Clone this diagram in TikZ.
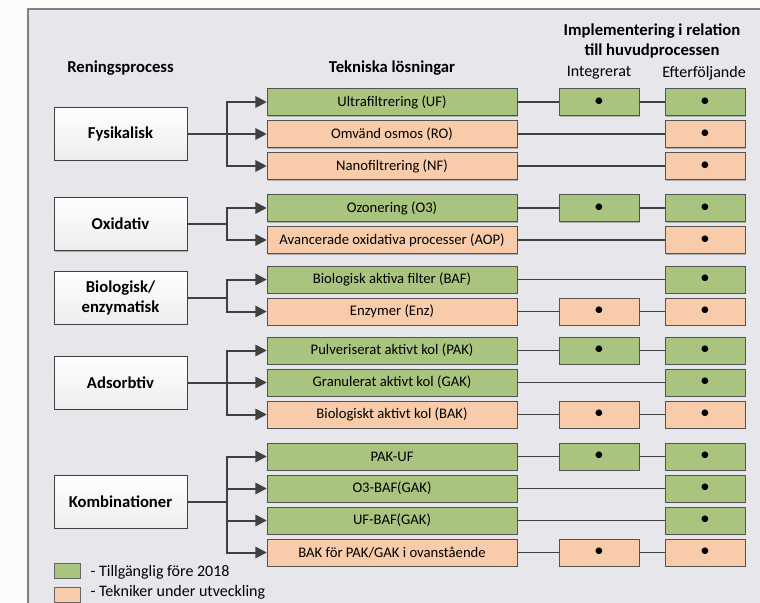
\documentclass[tikz,border=0pt]{standalone}
\usepackage{fontspec}
\setmainfont{Carlito}
\usetikzlibrary{arrows.meta, positioning, shadows}
\definecolor{cPanel}{RGB}{231,231,235}
\definecolor{cGreen}{RGB}{169,196,127}
\definecolor{cOrange}{RGB}{248,204,170}
\definecolor{cLine}{RGB}{64,64,64}
\tikzset{
	shd/.style      ={drop shadow={shadow xshift=1pt, shadow yshift=-1pt, opacity=0.25, fill=black}},
	grp/.style      ={rectangle, draw=cLine, top color=white, bottom color=black!7, minimum width=99.75pt, minimum height=39.75pt, align=center, font=\fontsize{12.5}{15}\selectfont\bfseries, shd},
	tek/.style      ={rectangle, draw=cLine!90, minimum width=187.5pt, minimum height=20.25pt, inner sep=0pt, font=\fontsize{11}{13}\selectfont, shd},
	imp/.style      ={tek, minimum width=60pt, font=\fontsize{14}{14}\selectfont},
	avail/.style    ={fill=cGreen},
	devel/.style    ={fill=cOrange},
	head/.style     ={align=center, font=\fontsize{12.5}{15}\selectfont\bfseries},
	sub/.style      ={font=\fontsize{12}{14}\selectfont},
	legbox/.style   ={rectangle, draw=cLine!80, minimum width=19.5pt, minimum height=11.25pt, inner sep=0pt},
	legtext/.style  ={inner sep=0pt, font=\fontsize{12}{14}\selectfont},
	% connectors
	sig/.style      ={-{Triangle[length=8.5pt, width=8.5pt]}, line width=1.5pt, draw=cLine},
	lnk/.style      ={line width=1pt, draw=cLine},
}

\begin{document}
\begin{tikzpicture}[x=0.75pt, y=-0.75pt]
	\useasboundingbox (0,0) rectangle (760,603);
	\clip (0,0) rectangle (760,603);
	\fill[white!97!brown] (0,0) rectangle (760,603);
	\draw[draw=black!50, fill=cPanel, line width=1pt] (28,9) rectangle (800,650);

	% column headers
	\node[head] (hren) at (120.5,68) {Reningsprocess};
	\node[head] (htek) at (392,68) {Tekniska lösningar};
	\node[head] (himp) at (652,41) {Implementering i relation\\till huvudprocessen};
	\node[sub] (hint) at (599,73) {Integrerat};
	\node[sub] (heft) at (704,73) {Efterföljande};
	\coordinate (icol) at (599,0);
	\coordinate (ecol) at (705,0);

	% treatment processes
	\node[grp] (fys) at (120.5,133.5) {Fysikalisk};
	\node[grp] (oxi) at (120.5,224) {Oxidativ};
	\node[grp] (bio) at (120.5,297.5) {Biologisk/\\enzymatisk};
	\node[grp] (ads) at (120.5,382.5) {Adsorbtiv};
	\node[grp] (kom) at (120.5,501.5) {Kombinationer};

	% technical solutions
	\node[tek, avail] (uf) at (392,102) {Ultrafiltrering (UF)};
	\node[tek, devel] (ro) at (392,134) {Omvänd osmos (RO)};
	\node[tek, devel] (nf) at (392,166) {Nanofiltrering (NF)};
	\node[tek, avail] (oz) at (392,208) {Ozonering (O3)};
	\node[tek, devel] (aop) at (392,240) {Avancerade oxidativa processer (AOP)};
	\node[tek, avail] (baf) at (392,279.5) {Biologisk aktiva filter (BAF)};
	\node[tek, devel] (enz) at (392,311.5) {Enzymer (Enz)};
	\node[tek, avail] (pak) at (392,350.5) {Pulveriserat aktivt kol (PAK)};
	\node[tek, avail] (gak) at (392,382.5) {Granulerat aktivt kol (GAK)};
	\node[tek, devel] (bak) at (392,414.5) {Biologiskt aktivt kol (BAK)};
	\node[tek, avail] (pakuf) at (392,456.5) {PAK-UF};
	\node[tek, avail] (ozbaf) at (392,488.5) {O3-BAF(GAK)};
	\node[tek, avail] (ufbaf) at (392,520.5) {UF-BAF(GAK)};
	\node[tek, devel] (bakk) at (392,552.5) {BAK för PAK/GAK i ovanstående};

	% implementation
	\foreach \t/\c in {uf/avail, oz/avail, enz/devel, pak/avail, bak/devel, pakuf/avail, bakk/devel}
		\node[imp, \c] (i-\t) at (\t -| icol) {\textbullet};
	\foreach \t/\c in {uf/avail, ro/devel, nf/devel, oz/avail, aop/devel, baf/avail, enz/devel, pak/avail, gak/avail, bak/devel, pakuf/avail, ozbaf/avail, ufbaf/avail, bakk/devel}
		\node[imp, \c] (e-\t) at (\t -| ecol) {\textbullet};

	\foreach \t in {uf, oz, enz, pak, bak, pakuf, bakk}
		\draw[lnk] (\t) -- (i-\t) -- (e-\t);
	\foreach \t in {ro, nf, aop, baf, gak, ozbaf, ufbaf}
		\draw[lnk] (\t) -- (e-\t);

	% process -> solution
	\foreach \t in {uf, ro, nf} \draw[sig] (fys.east) -- ++(40,0) |- (\t.west);
	\foreach \t in {oz, aop} \draw[sig] (oxi.east) -- ++(40,0) |- (\t.west);
	\foreach \t in {baf, enz} \draw[sig] (bio.east) -- ++(40,0) |- (\t.west);
	\foreach \t in {pak, gak, bak} \draw[sig] (ads.east) -- ++(40,0) |- (\t.west);
	\foreach \t in {pakuf, ozbaf, ufbaf, bakk} \draw[sig] (kom.east) -- ++(40,0) |- (\t.west);

	% legend
	\node[legbox, avail] (lg1) at (67,570.5) {};
	\node[legbox, devel] (lg2) at (67,594.5) {};
	\node[legtext, right=7.5pt of lg1, yshift=-1pt] (lt1) {- Tillgänglig före 2018};
	\node[legtext, right=7.5pt of lg2, yshift=2pt] (lt2) {- Tekniker under utveckling};
\end{tikzpicture}
\end{document}
